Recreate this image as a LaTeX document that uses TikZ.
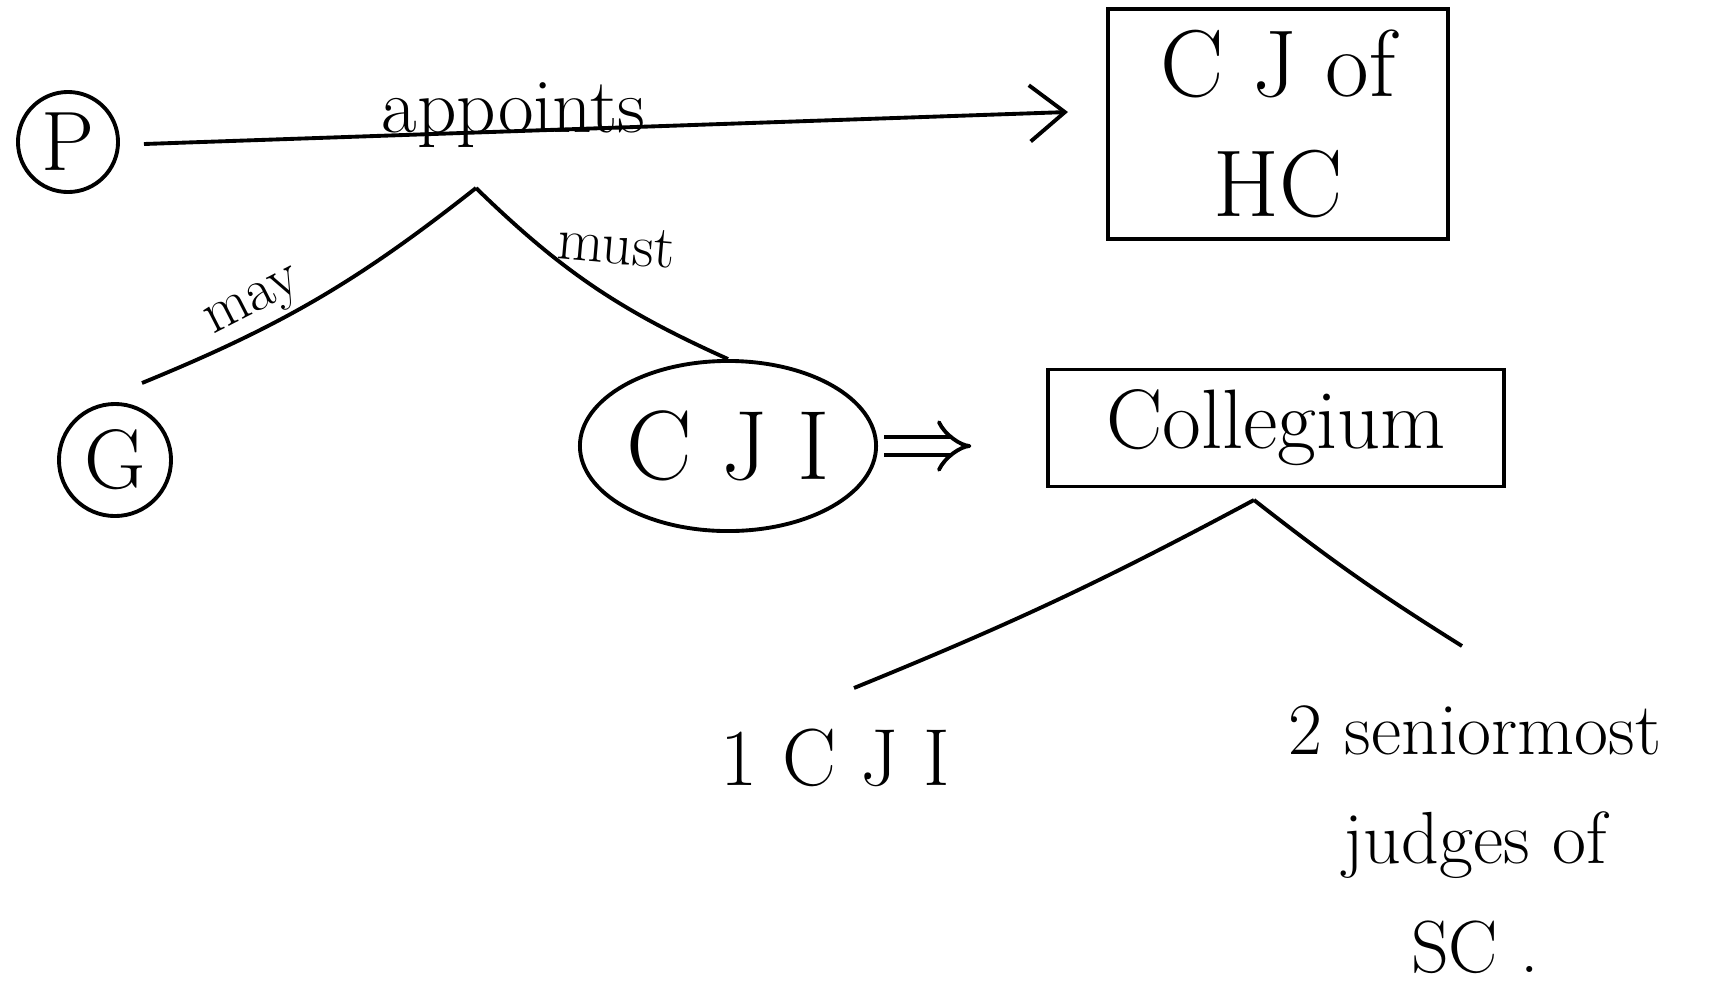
\documentclass[tikz,border=0pt]{standalone}
\usetikzlibrary{shapes.geometric,arrows.meta}
\begin{document}
\begin{tikzpicture}[x=0.01cm,y=-0.01cm,
  every path/.style={line width=1.1pt},
  pen/.style={line width=1.1pt,draw=black},
  circ/.style={pen,circle,inner sep=0pt,font=\fontsize{24}{28}\selectfont},
  oval/.style={pen,ellipse,inner sep=0pt,font=\fontsize{28}{32}\selectfont},
  boxnode/.style={pen,rectangle,inner sep=0pt,align=center},
  lbl/.style={font=\fontsize{21}{31}\selectfont,align=center,inner sep=1pt},
  small/.style={font=\fontsize{17}{19}\selectfont,inner sep=1pt},
  barb/.style={-{Straight Barb[length=10pt,width=16pt]}}
]
\useasboundingbox (0,0) rectangle (1717,984);

\node[circ,minimum size=1.0cm] (P) at (68,142) {P};
\node[circ,minimum width=1.04cm,minimum height=1.12cm] (G) at (115,460) {G};
\node[oval,minimum width=2.96cm,minimum height=1.7cm] (CJI) at (728,446) {C J I};
\node[boxnode,minimum width=3.39cm,minimum height=2.3cm,font=\fontsize{27}{34}\selectfont] (CJ) at (1278,124) {C J of\\HC};
\node[boxnode,minimum width=4.55cm,minimum height=1.17cm,font=\fontsize{24}{28}\selectfont] (COL) at (1276,428) {Collegium};
\node[lbl,font=\fontsize{23}{28}\selectfont] (one) at (835,758) {1 C J I};
\node[lbl] (two) at (1475,840) {2 seniormost\\judges of\\SC .};

\coordinate (br) at (476,188);
\coordinate (gend) at (142,383);
\coordinate (cb) at (1254,500);
\coordinate (c1) at (854,688);
\coordinate (c2) at (1462,646);
\coordinate (aend) at (1068,112);

\draw[barb] ([xshift=0.24cm,yshift=-0.02cm]P.east) -- (aend)
  node[pos=0.4,anchor=base,yshift=-0.5pt,font=\fontsize{22}{26}\selectfont] (app) {appoints};
\draw (br) to[bend left=8] node[pos=0.66,sloped,above,small] (may) {may} (gend);
\draw (br) to[bend right=10] node[pos=0.25,anchor=south west,xshift=4pt,yshift=-6pt,small,rotate=-5] (must) {must} (CJI.north);
\draw[double,double distance=4pt,-{Implies},shorten <=0.06cm,shorten >=0.75cm] (CJI.east) -- (CJI.east -| COL.west);
\draw (cb) to[bend left=3] (c1);
\draw (cb) to[bend right=3] (c2);
\end{tikzpicture}
\end{document}
